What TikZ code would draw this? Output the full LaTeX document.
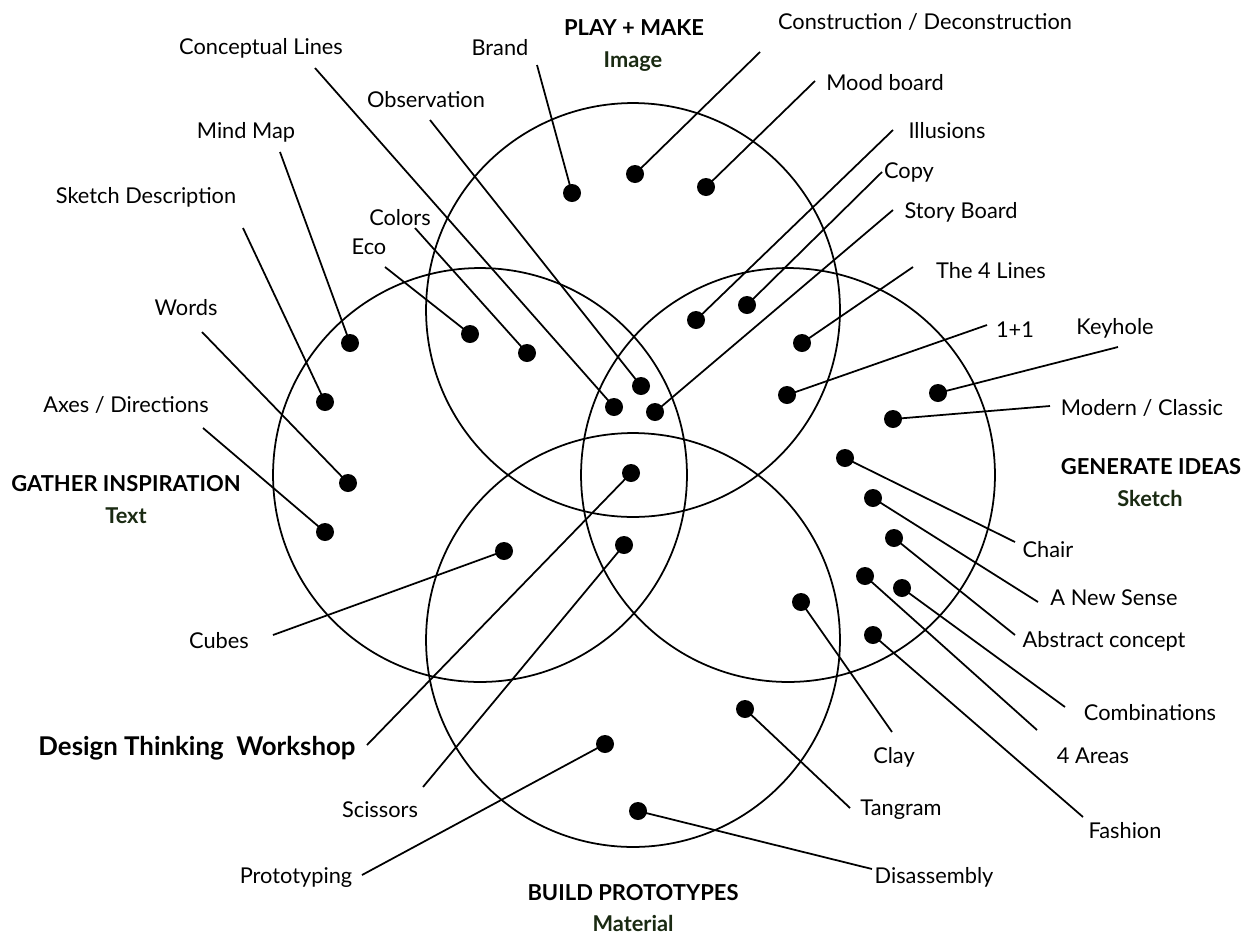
\documentclass[tikz,border=0pt]{standalone}
\usepackage{fontspec}
\setmainfont{Lato}
\definecolor{subgreen}{RGB}{26,42,18}
\begin{document}
\begin{tikzpicture}[x=0.02cm,y=-0.02cm,
  ring/.style={draw, circle, line width=1pt, minimum size=8.28cm, inner sep=0pt},
  dot/.style={circle, fill=black, minimum size=0.36cm, inner sep=0pt},
  conn/.style={line width=1pt},
  lab/.style={inner sep=0pt, font=\fontsize{12.4}{14}\selectfont},
  head/.style={inner sep=0pt, font=\fontsize{12.5}{14}\selectfont\bfseries},
  sub/.style={inner sep=0pt, font=\fontsize{12.4}{14}\selectfont\bfseries, text=subgreen},
  big/.style={inner sep=0pt, font=\fontsize{14.7}{16}\selectfont\bfseries}]
\useasboundingbox (0,0) rectangle (1250,934);
\fill[white] (0,0) rectangle (1250,934);
% circles
\node[ring] (cTop) at (633,310) {};
\node[ring] (cLeft) at (480,475) {};
\node[ring] (cRight) at (788,475) {};
\node[ring] (cBot) at (633,640) {};
% headings
\node[head] (hPlay) at (634,28) {PLAY + MAKE};
\node[sub] (sImage) at (633,62) {Image};
\node[head] (hGather) at (126,484) {GATHER INSPIRATION};
\node[sub] (sText) at (126,516) {Text};
\node[head] (hGen) at (1151,467) {GENERATE IDEAS};
\node[sub] (sSketch) at (1150,498) {Sketch};
\node[head] (hBuild) at (633,893) {BUILD PROTOTYPES};
\node[sub] (sMat) at (633,923) {Material};
% items: name / dot / end / label pos / text
\foreach \n/\dx/\dy/\ex/\ey/\lx/\ly/\t in {
  brand/572/193/537/65/500/48/{Brand},
  constr/635/174/760/52/925/22/{Construction / Deconstruction},
  mood/706/187/815/81/885/83/{Mood board},
  illus/696/320/893/130/947/131/{Illusions},
  copy/747/305/882/172/909/172/{Copy},
  story/655/412/893/210/961/212/{Story Board},
  fourl/802/343/913/267/991/271/{The 4 Lines},
  oneone/787/395/987/325/1015/330/{1+1},
  keyhole/938/393/1118/347/1115/328/{Keyhole},
  modern/893/419/1050/406/1142/408/{Modern / Classic},
  chair/845/458/1015/542/1048/550/{Chair},
  newsense/873/498/1038/602/1114/598/{A New Sense},
  abstract/894/538/1015/635/1104/641/{Abstract concept},
  combi/902/588/1065/707/1150/713/{Combinations},
  areas/865/576/1037/730/1093/756/{4 Areas},
  fashion/873/635/1083/817/1125/831/{Fashion},
  clay/801/602/892/732/894/757/{Clay},
  tangram/745/709/850/808/901/810/{Tangram},
  disass/638/811/872/869/934/877/{Disassembly},
  proto/605/744/362/875/296/878/{Prototyping},
  scissors/624/545/423/787/380/810/{Scissors},
  cubes/504/551/273/635/219/641/{Cubes},
  words/348/483/202/332/186/308/{Words},
  axes/325/532/203/428/126/405/{Axes / Directions},
  mind/350/343/280/152/246/132/{Mind Map},
  sketch/325/402/243/228/146/197/{Sketch Description},
  colors/527/353/415/228/400/218/{Colors},
  eco/470/334/385/267/369/247/{Eco},
  concept/614/407/315/68/261/48/{Conceptual Lines},
  observ/641/386/430/120/426/100/{Observation}} {
  \node[dot] (d-\n) at (\dx,\dy) {};
  \coordinate (e-\n) at (\ex,\ey);
  \node[lab] (l-\n) at (\lx,\ly) {\t};
  \draw[conn] (d-\n.center) -- (e-\n);
}
% Design Thinking Workshop
\node[dot] (d-dtw) at (631,473) {};
\coordinate (e-dtw) at (367,745);
\node[big] (l-dtw) at (197,748) {Design Thinking\ \ Workshop};
\draw[conn] (d-dtw.center) -- (e-dtw);
\end{tikzpicture}
\end{document}
